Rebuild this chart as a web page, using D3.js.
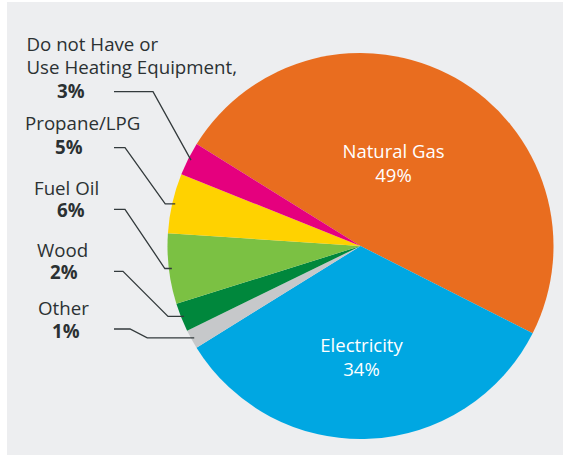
<!DOCTYPE html>
<html>
<head>
<meta charset="utf-8">
<script src="https://cdn.jsdelivr.net/npm/d3@7"></script>
<style>
  body { margin: 0; background: #fff; }
  svg text { font-family: "Open Sans", sans-serif; }
</style>
</head>
<body>
<svg id="pie" width="566" height="456"></svg>
<script>
// slice order, clockwise starting from the natural gas slice
const categories = ["Natural Gas", "Electricity", "Other", "Wood", "Fuel Oil", "Propane/LPG", "Do not Have or Use Heating Equipment"];
// slice sizes as drawn (labels are rounded)
const shares = [48.6, 33.7, 1.6, 2.4, 5.9, 5.0, 2.8];
const pctLabels = ["49%", "34%", "1%", "2%", "6%", "5%", "3%"];
const nameLines = [["Natural Gas"], ["Electricity"], ["Other"], ["Wood"], ["Fuel Oil"], ["Propane/LPG"], ["Do not Have or", "Use Heating Equipment,"]];
const colors = ["#e96d1f", "#00a7e2", "#c6c8ca", "#00873c", "#7bc143", "#ffd200", "#e5007e"];

const svg = d3.select("#pie");
const cx = 360.5, cy = 246, radius = 193;

svg.append("rect")
    .attr("x", 7).attr("y", 2)
    .attr("width", 556).attr("height", 453)
    .attr("fill", "#edeef0");

const startA = -58.1 * Math.PI / 180;
const pie = d3.pie().sort(null).value(d => d)
    .startAngle(startA).endAngle(startA + 2 * Math.PI);
const arcs = pie(shares);
const arc = d3.arc().innerRadius(0).outerRadius(radius);

const g = svg.append("g").attr("transform", "translate(" + cx + "," + cy + ")");

g.selectAll("path")
    .data(arcs)
    .enter().append("path")
    .attr("d", arc)
    .attr("fill", (d, i) => colors[i]);

// labels inside the two big slices
const inner = [{ i: 0, dx: 33, dy: -88 }, { i: 1, dx: 1, dy: 106 }];
inner.forEach(o => {
    const t = g.append("text")
        .attr("text-anchor", "middle")
        .attr("fill", "#fff")
        .attr("font-size", 18.5)
        .attr("font-weight", 500);
    t.append("tspan").attr("x", o.dx).attr("y", o.dy).text(nameLines[o.i][0]);
    t.append("tspan").attr("x", o.dx).attr("y", o.dy + 24).text(pctLabels[o.i]);
});

// outside labels with leader lines
const outer = [
    { i: 6, xs: [26.5, 26.5], ys: [50.5, 73.5], px: 57, py: 98, ly: 91.7, bend: 153, tail: 0 },
    { i: 5, xs: [25], ys: [130], px: 55, py: 154, ly: 147.7, bend: 125, tail: 10 },
    { i: 4, xs: [34], ys: [195], px: 57, py: 217, ly: 209.3, bend: 125, tail: 7 },
    { i: 3, xs: [37], ys: [257], px: 50, py: 279, ly: 271.3, bend: 123, tail: 16 },
    { i: 2, xs: [38], ys: [315], px: 52, py: 338, ly: 329, bend: 130, tail: 47 }
];

outer.forEach(o => {
    nameLines[o.i].forEach((line, k) => {
        svg.append("text")
            .attr("x", o.xs[k]).attr("y", o.ys[k])
            .attr("fill", "#2b3133")
            .attr("font-size", 18.7)
            .text(line);
    });
    svg.append("text")
        .attr("x", o.px).attr("y", o.py)
        .attr("fill", "#2b3133")
        .attr("font-size", 18.7)
        .attr("font-weight", "bold")
        .text(pctLabels[o.i]);

    const a = arcs[o.i];
    const mid = (a.startAngle + a.endAngle) / 2;
    const ex = cx + (radius - 3) * Math.sin(mid);
    const ey = cy - (radius - 3) * Math.cos(mid);
    const p = d3.path();
    p.moveTo(114, o.ly);
    p.lineTo(o.bend, o.ly);
    p.lineTo(ex - o.tail, ey);
    p.lineTo(ex, ey);
    svg.append("path")
        .attr("d", p.toString())
        .attr("fill", "none")
        .attr("stroke", "#333a3c")
        .attr("stroke-width", 1.3);
});
</script>
</body>
</html>
